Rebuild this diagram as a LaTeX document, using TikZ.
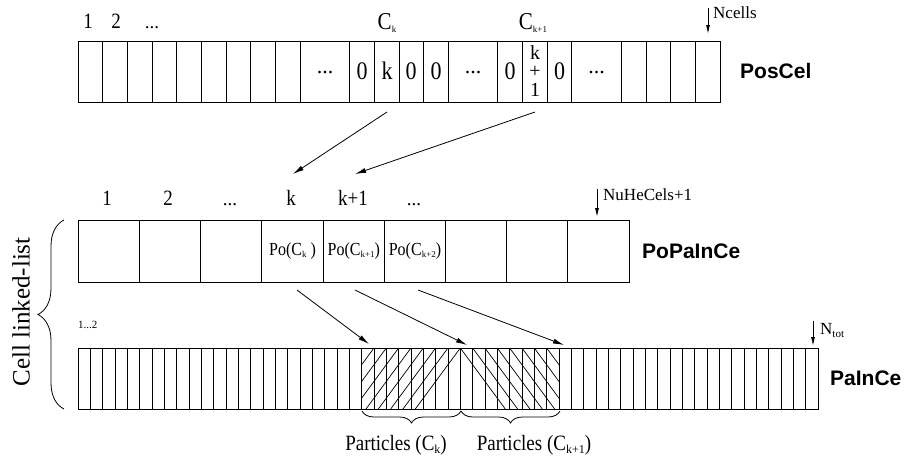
\documentclass[tikz,border=0pt]{standalone}
\usepackage{fontspec}
\setmainfont{Liberation Serif}
\newfontfamily\labfont{Liberation Sans}
\usetikzlibrary{decorations.pathreplacing,arrows.meta}
\newcommand{\fsz}[1]{\fontsize{#1}{#1}\selectfont}
\newcommand{\sbs}[2]{\raisebox{-#1}{\fontsize{9}{9}\selectfont #2}}
\newcommand{\vs}[1]{\scalebox{1}[1.15]{#1}}
\begin{document}
\begin{tikzpicture}[x=1pt,y=-1pt,
  rowbox/.style={draw, line width=1pt},
  cline/.style={line width=0.7pt},
  thin/.style={line width=0.55pt},
  hatch/.style={line width=0.7pt},
  arr/.style={-{Latex[length=11pt,width=5pt]}, line width=0.8pt},
  ptr/.style={-{Latex[length=9pt,width=4pt]}, line width=0.9pt},
  arrname/.style={font=\labfont\bfseries\fsz{21}, anchor=west, inner sep=0pt},
  idx/.style={font=\fsz{19}, anchor=base, inner sep=0pt},
  cell/.style={font=\fsz{22}, inner sep=0pt},
  small/.style={font=\fsz{17}, anchor=west, inner sep=0pt},
  brc/.style={decorate, decoration={brace, amplitude=#1}, line width=0.8pt}
]
\useasboundingbox (0,0) rectangle (911,459);

% ---------- PosCel ----------
\node[rowbox, anchor=north west, minimum width=642pt, minimum height=61pt, inner sep=0pt] (poscel) at (78,41) {};
\foreach \i in {1,...,9,11,12,13,14,15,17,18,19,20,22,23,24,25}
  \draw[cline] (78+\i*24.692,41) -- (78+\i*24.692,102);
\node[idx] (t1) at (88,28) {\vs{1}};
\node[idx] (t2) at (116,28) {\vs{2}};
\node[idx] (t3) at (152,28) {...};
\node[idx, font=\fsz{21}] (tck) at (387,29) {\vs{C}\sbs{3pt}{k}};
\node[idx, font=\fsz{21}] (tck1) at (533,29) {\vs{C}\sbs{3pt}{k+1}};
\node[cell] (c1) at (325,73) {...};
\node[cell] (c2) at (362,71) {\vs{0}};
\node[cell] (c3) at (387,71) {\vs{k}};
\node[cell] (c4) at (411,71) {\vs{0}};
\node[cell] (c5) at (436,71) {\vs{0}};
\node[cell] (c6) at (473,73) {...};
\node[cell] (c7) at (510,71) {\vs{0}};
\node[font=\fontsize{20}{18.5}\selectfont, align=center, inner sep=0pt] (c8) at (535,71) {k\\+\\1};
\node[cell] (c9) at (559.5,71) {\vs{0}};
\node[cell] (c10) at (596.5,73) {...};
\coordinate (nca) at (708,8);
\coordinate (ncb) at (708,34);
\draw[ptr] (nca) -- (ncb);
\node[small] (ncl) at (713,13) {Ncells};
\node[arrname] (posl) at (740,71) {PosCel};

% arrows PosCel -> PoPaInCe
\coordinate (a1s) at (387,112);
\coordinate (a1e) at (293,174);
\coordinate (a2s) at (535,112);
\coordinate (a2e) at (355,174);
\draw[arr] (a1s) -- (a1e);
\draw[arr] (a2s) -- (a2e);

% ---------- PoPaInCe ----------
\node[rowbox, anchor=north west, minimum width=551pt, minimum height=62pt, inner sep=0pt] (popa) at (78,220) {};
\foreach \i in {1,...,8}
  \draw[cline] (78+\i*61.222,220) -- (78+\i*61.222,282);
\node[idx] (u1) at (107,205) {\vs{1}};
\node[idx] (u2) at (168,205) {\vs{2}};
\node[idx] (u3) at (230,205) {...};
\node[idx] (u4) at (291,205) {\vs{k}};
\node[idx] (u5) at (353,205) {\vs{k+1}};
\node[idx] (u6) at (414,205) {...};
\node[cell, font=\fsz{16}] (p1) at (292.6,251) {\vs{Po(C}\sbs{2pt}{k}\vs{ )}};
\node[cell, font=\fsz{16}] (p2) at (353.8,251) {\vs{Po(C}\sbs{2pt}{k+1}\vs{)}};
\node[cell, font=\fsz{16}] (p3) at (415,251) {\vs{Po(C}\sbs{2pt}{k+2}\vs{)}};
\coordinate (nua) at (597,189);
\coordinate (nub) at (597,217);
\draw[ptr] (nua) -- (nub);
\node[small] (nul) at (603,195) {NuHeCels+1};
\node[arrname] (popl) at (642,251) {PoPaInCe};

% arrows PoPaInCe -> PaInCe
\coordinate (b1s) at (297,290);
\coordinate (b1e) at (369,344);
\coordinate (b2s) at (355,290);
\coordinate (b2e) at (467,345);
\coordinate (b3s) at (418,290);
\coordinate (b3e) at (564,345);
\draw[arr] (b1s) -- (b1e);
\draw[arr] (b2s) -- (b2e);
\draw[arr] (b3s) -- (b3e);

% ---------- PaInCe ----------
\begin{scope}
  \clip (361.7,348) rectangle (460.3,409);
  \foreach \n in {0,...,12}
    \draw[hatch] (460.3-\n*12.333,348) -- (460.3-\n*12.333-45,409);
\end{scope}
\begin{scope}
  \clip (460.3,348) rectangle (559,409);
  \foreach \n in {0,...,12}
    \draw[hatch] (460.3+\n*12.333,348) -- (460.3+\n*12.333+45,409);
\end{scope}
\node[rowbox, anchor=north west, minimum width=740pt, minimum height=61pt, inner sep=0pt] (paince) at (78,348) {};
\foreach \i in {1,...,59}
  \draw[thin] (78+\i*12.333,348) -- (78+\i*12.333,409);
\node[font=\fsz{11}, anchor=west, inner sep=0pt] (l12) at (78,325) {1...2};
\coordinate (nta) at (813,321);
\coordinate (ntb) at (813,346);
\draw[ptr] (nta) -- (ntb);
\node[small] (ntl) at (820,330) {N\sbs{3pt}{\fsz{11}tot}};
\node[arrname] (pail) at (830,378) {PaInCe};

% braces
\coordinate (br1a) at (362,411);
\coordinate (br1b) at (461,411);
\coordinate (br2a) at (461,411);
\coordinate (br2b) at (560,411);
\draw[brc=12pt] (br1b) -- (br1a);
\draw[brc=12pt] (br2b) -- (br2a);
\node[font=\fsz{19}, anchor=base, inner sep=0pt] (pk) at (396,450) {\vs{Particles (C}\raisebox{-3pt}{\fsz{12}k}\vs{)}};
\node[font=\fsz{19}, anchor=base, inner sep=0pt] (pk1) at (534,450) {\vs{Particles (C}\raisebox{-3pt}{\fsz{12}k+1}\vs{)}};

% left brace
\coordinate (lba) at (64,409);
\coordinate (lbb) at (64,220);
\draw[brc=26pt] (lba) -- (lbb);
\node[font=\fsz{25}, rotate=90, inner sep=0pt] (cll) at (21,312) {Cell linked-list};
\end{tikzpicture}
\end{document}
